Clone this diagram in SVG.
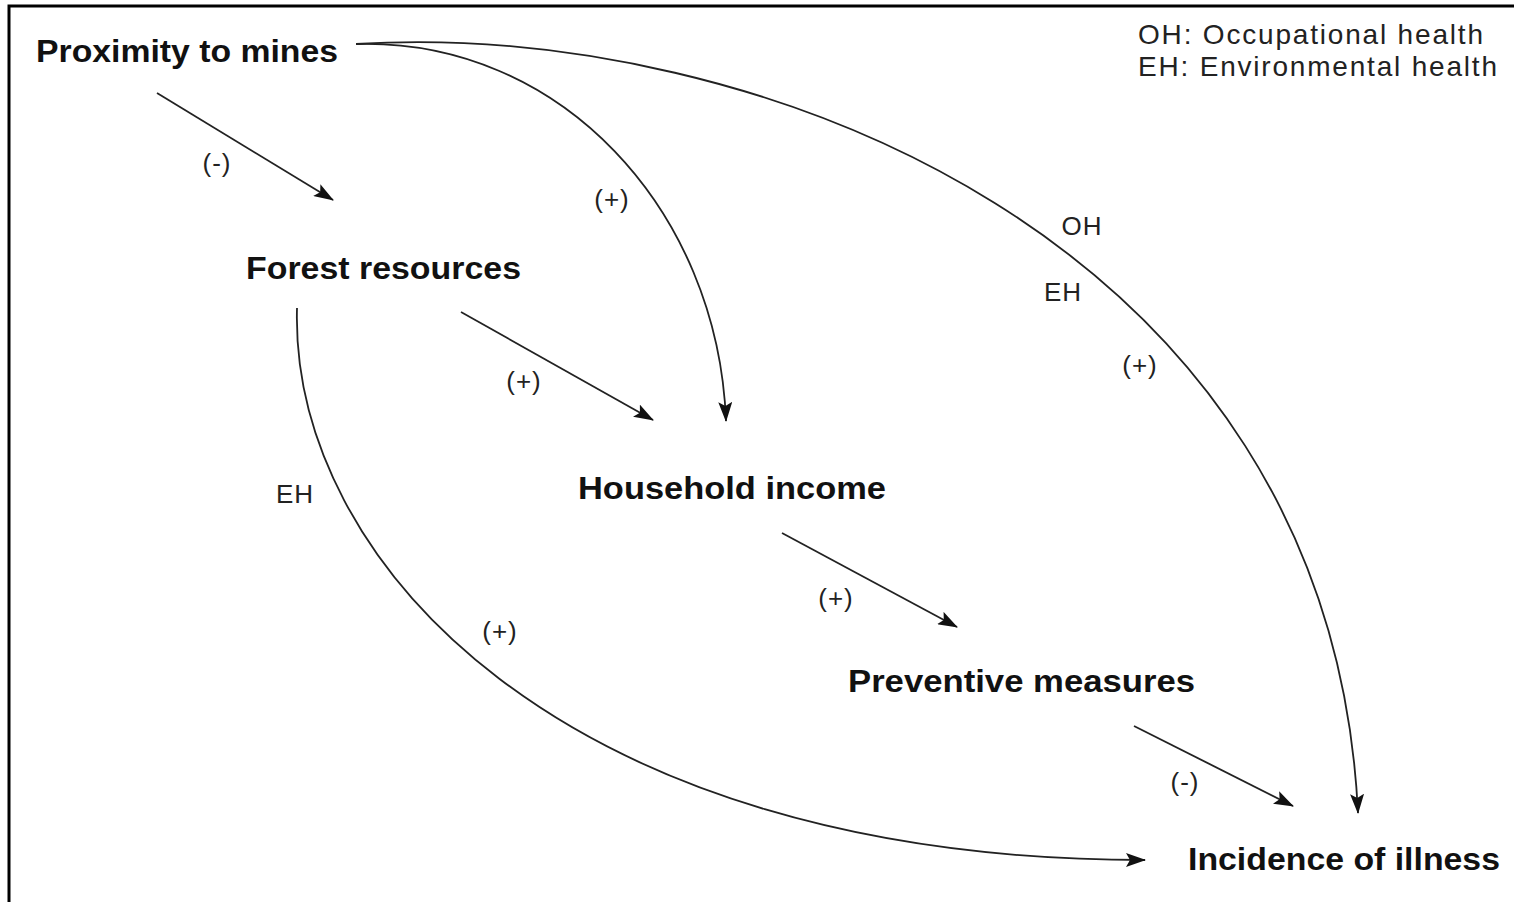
<svg xmlns="http://www.w3.org/2000/svg" width="1514" height="902" viewBox="0 0 1514 902">
<style>
.node{font-family:"Liberation Sans",Arial,sans-serif;font-weight:bold;font-size:31px;fill:#111}
.lab{font-family:"Liberation Sans",Arial,sans-serif;font-size:26px;fill:#222;letter-spacing:1px}
.leg{font-family:"Liberation Sans",Arial,sans-serif;font-size:28px;fill:#222}
.c{fill:none;stroke:#222;stroke-width:1.8}
</style>
<defs>
<marker id="ah" viewBox="0 0 20 14" refX="19" refY="7" markerWidth="20" markerHeight="14" markerUnits="userSpaceOnUse" orient="auto">
<path d="M0,0 L20,7 L0,14 L4,7 Z" fill="#111"/>
</marker>
</defs>
<rect width="1514" height="902" fill="#fff"/>
<path d="M9,902 V6 H1514" fill="none" stroke="#000" stroke-width="3"/>
<g id="legend">
<text class="leg" x="1138" y="44" textLength="345" lengthAdjust="spacing">OH: Occupational health</text>
<text class="leg" x="1138" y="76" textLength="359" lengthAdjust="spacing">EH: Environmental health</text>
</g>
<g id="connectors">
<path class="c" d="M157,93 L333,200" marker-end="url(#ah)"/>
<path class="c" d="M461,312 L653,420" marker-end="url(#ah)"/>
<path class="c" d="M782,533 L957,627" marker-end="url(#ah)"/>
<path class="c" d="M1134,726 L1293,806" marker-end="url(#ah)"/>
<path class="c" d="M356,44 C560,38 718,210 726,421" marker-end="url(#ah)"/>
<path class="c" d="M356,44 C750,20 1330,235 1358,813" marker-end="url(#ah)"/>
<path class="c" d="M297,308 C290,560 560,860 1145,860" marker-end="url(#ah)"/>
</g>
<g id="labels">
<text class="lab" x="217" y="172" text-anchor="middle">(-)</text>
<text class="lab" x="612" y="208" text-anchor="middle">(+)</text>
<text class="lab" x="1082" y="235" text-anchor="middle">OH</text>
<text class="lab" x="1063" y="301" text-anchor="middle">EH</text>
<text class="lab" x="1140" y="374" text-anchor="middle">(+)</text>
<text class="lab" x="524" y="390" text-anchor="middle">(+)</text>
<text class="lab" x="295" y="503" text-anchor="middle">EH</text>
<text class="lab" x="500" y="640" text-anchor="middle">(+)</text>
<text class="lab" x="836" y="607" text-anchor="middle">(+)</text>
<text class="lab" x="1185" y="791" text-anchor="middle">(-)</text>
</g>
<g id="proximity"><text class="node" x="36" y="62" textLength="302" lengthAdjust="spacingAndGlyphs">Proximity to mines</text></g>
<g id="forest"><text class="node" x="246" y="279" textLength="275" lengthAdjust="spacingAndGlyphs">Forest resources</text></g>
<g id="household"><text class="node" x="578" y="499" textLength="308" lengthAdjust="spacingAndGlyphs">Household income</text></g>
<g id="preventive"><text class="node" x="848" y="692" textLength="347" lengthAdjust="spacingAndGlyphs">Preventive measures</text></g>
<g id="incidence"><text class="node" x="1188" y="870" textLength="312" lengthAdjust="spacingAndGlyphs">Incidence of illness</text></g>
</svg>
